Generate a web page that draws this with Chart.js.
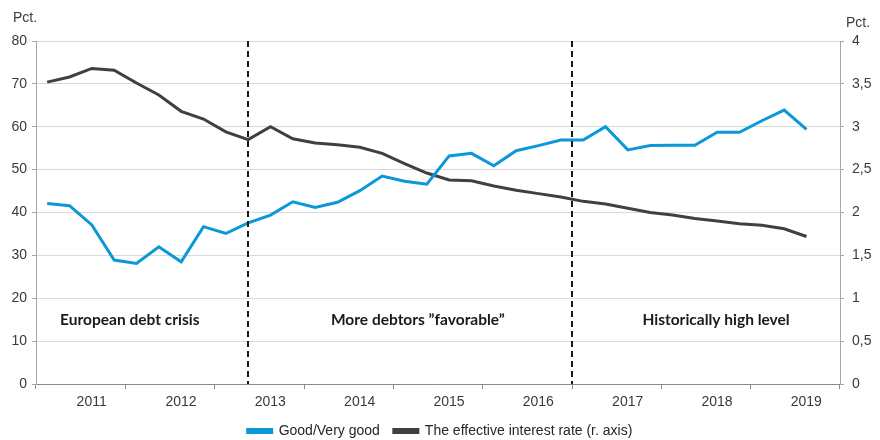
<!DOCTYPE html>
<html>
<head>
<meta charset="utf-8">
<script src="https://cdn.jsdelivr.net/npm/chart.js@4.4.0/dist/chart.umd.min.js"></script>
<style>
  html, body { margin: 0; padding: 0; background: #fff; }
  #wrap { width: 880px; height: 440px; }
</style>
</head>
<body>
<div id="wrap"><canvas id="myChart" width="880" height="440"></canvas></div>
<script>
var years = ['2011', '2012', '2013', '2014', '2015', '2016', '2017', '2018', '2019'];
var quarters = [];
years.forEach(function (y) {
    ['K1', 'K2', 'K3', 'K4'].forEach(function (q) { quarters.push(y + q); });
});

// share of debtors rated good/very good, pct. (left axis)
var goodVeryGood = [42.1, 41.6, 37.1, 28.9, 28.1, 32.0, 28.5, 36.7, 35.1, 37.6, 39.4, 42.5,
    41.2, 42.4, 45.1, 48.5, 47.3, 46.6, 53.2, 53.8, 50.9, 54.4, 55.6, 56.9,
    56.9, 60.0, 54.6, 55.6, 55.7, 55.7, 58.7, 58.7, 61.4, 63.9, 59.4, null];

// effective interest rate, pct. (right axis)
var interestRate = [3.52, 3.58, 3.68, 3.66, 3.51, 3.37, 3.18, 3.09, 2.94, 2.85, 3.00, 2.86,
    2.81, 2.79, 2.76, 2.69, 2.57, 2.46, 2.38, 2.37, 2.31, 2.26, 2.22, 2.18,
    2.13, 2.10, 2.05, 2.00, 1.97, 1.93, 1.90, 1.87, 1.85, 1.81, 1.72, null];

var phases = ['European debt crisis', 'More debtors \u201dfavorable\u201d', 'Historically high level'];

var tickFont = { family: '"Liberation Sans", Arial, sans-serif', size: 14 };
var tickColor = '#3a3a3a';

// dashed phase separators, phase titles and the "Pct." labels
var extras = {
    id: 'extras',
    afterDatasetsDraw: function (chart) {
        var ctx = chart.ctx;
        var x = chart.scales.x;
        var y = chart.scales.y;
        var area = chart.chartArea;

        ctx.save();
        ctx.strokeStyle = '#1a1a1a';
        ctx.lineWidth = 2;
        ctx.setLineDash([6, 4]);
        [9, 23.5].forEach(function (v) {
            var px = Math.round(x.getPixelForValue(v));
            ctx.beginPath();
            ctx.moveTo(px, area.top);
            ctx.lineTo(px, area.bottom);
            ctx.stroke();
        });
        ctx.setLineDash([]);

        ctx.fillStyle = '#1a1a1a';
        ctx.font = 'bold 15.5px Lato, "Open Sans", sans-serif';
        ctx.textAlign = 'center';
        ctx.textBaseline = 'middle';
        var ty = y.getPixelForValue(15);
        ctx.fillText(phases[0], x.getPixelForValue(3.7), ty);
        ctx.fillText(phases[1], x.getPixelForValue(16.6), ty);
        ctx.fillText(phases[2], x.getPixelForValue(29.95), ty);

        ctx.fillStyle = tickColor;
        ctx.font = '14px "Liberation Sans", Arial, sans-serif';
        ctx.textAlign = 'left';
        ctx.fillText('Pct.', 13, 18);
        ctx.fillText('Pct.', 846, 23);
        ctx.restore();
    }
};

var data = {
    labels: quarters,
    datasets: [{
            label: 'Good/Very good',
            data: goodVeryGood,
            borderColor: '#0b98d8',
            backgroundColor: '#0b98d8',
            borderWidth: 3,
            pointRadius: 0,
            tension: 0,
            yAxisID: 'y'
        },
        {
            label: 'The effective interest rate (r. axis)',
            data: interestRate,
            borderColor: '#404040',
            backgroundColor: '#404040',
            borderWidth: 3,
            pointRadius: 0,
            tension: 0,
            yAxisID: 'y1'
        }
    ]
};

var config = {
    type: 'line',
    data: data,
    options: {
        responsive: false,
        animation: false,
        layout: {
            padding: { top: 41, left: 0, right: 0, bottom: 0 }
        },
        plugins: {
            legend: {
                position: 'bottom',
                maxHeight: 30,
                labels: {
                    boxWidth: 24,
                    boxHeight: 3,
                    padding: 14,
                    color: '#262626',
                    font: tickFont
                }
            },
            tooltip: { enabled: false }
        },
        scales: {
            x: {
                display: false,
                offset: true
            },
            xYears: {
                type: 'category',
                labels: years,
                position: 'bottom',
                offset: true,
                grid: {
                    offset: true,
                    drawOnChartArea: false,
                    tickLength: 5,
                    color: '#8c8c8c'
                },
                border: { color: '#8c8c8c' },
                ticks: {
                    font: tickFont,
                    color: tickColor,
                    padding: 5,
                    labelOffset: 11,
                    maxRotation: 0
                },
                afterFit: function (scale) { scale.height = 26; }
            },
            y: {
                position: 'left',
                min: 0,
                max: 80,
                ticks: {
                    stepSize: 10,
                    font: tickFont,
                    color: tickColor,
                    padding: 5
                },
                grid: {
                    color: '#d9d9d9',
                    tickLength: 4,
                    tickColor: '#a6a6a6'
                },
                border: { color: '#a6a6a6' },
                afterFit: function (scale) { scale.width = 36; }
            },
            y1: {
                position: 'right',
                min: 0,
                max: 4,
                ticks: {
                    stepSize: 0.5,
                    font: tickFont,
                    color: tickColor,
                    padding: 8,
                    callback: function (v) { return String(v).replace('.', ','); }
                },
                grid: {
                    drawOnChartArea: false,
                    tickLength: 4,
                    color: '#a6a6a6'
                },
                border: { color: '#a6a6a6' },
                afterFit: function (scale) { scale.width = 40; }
            }
        }
    },
    plugins: [extras]
};

new Chart(document.getElementById('myChart'), config);
</script>
</body>
</html>
